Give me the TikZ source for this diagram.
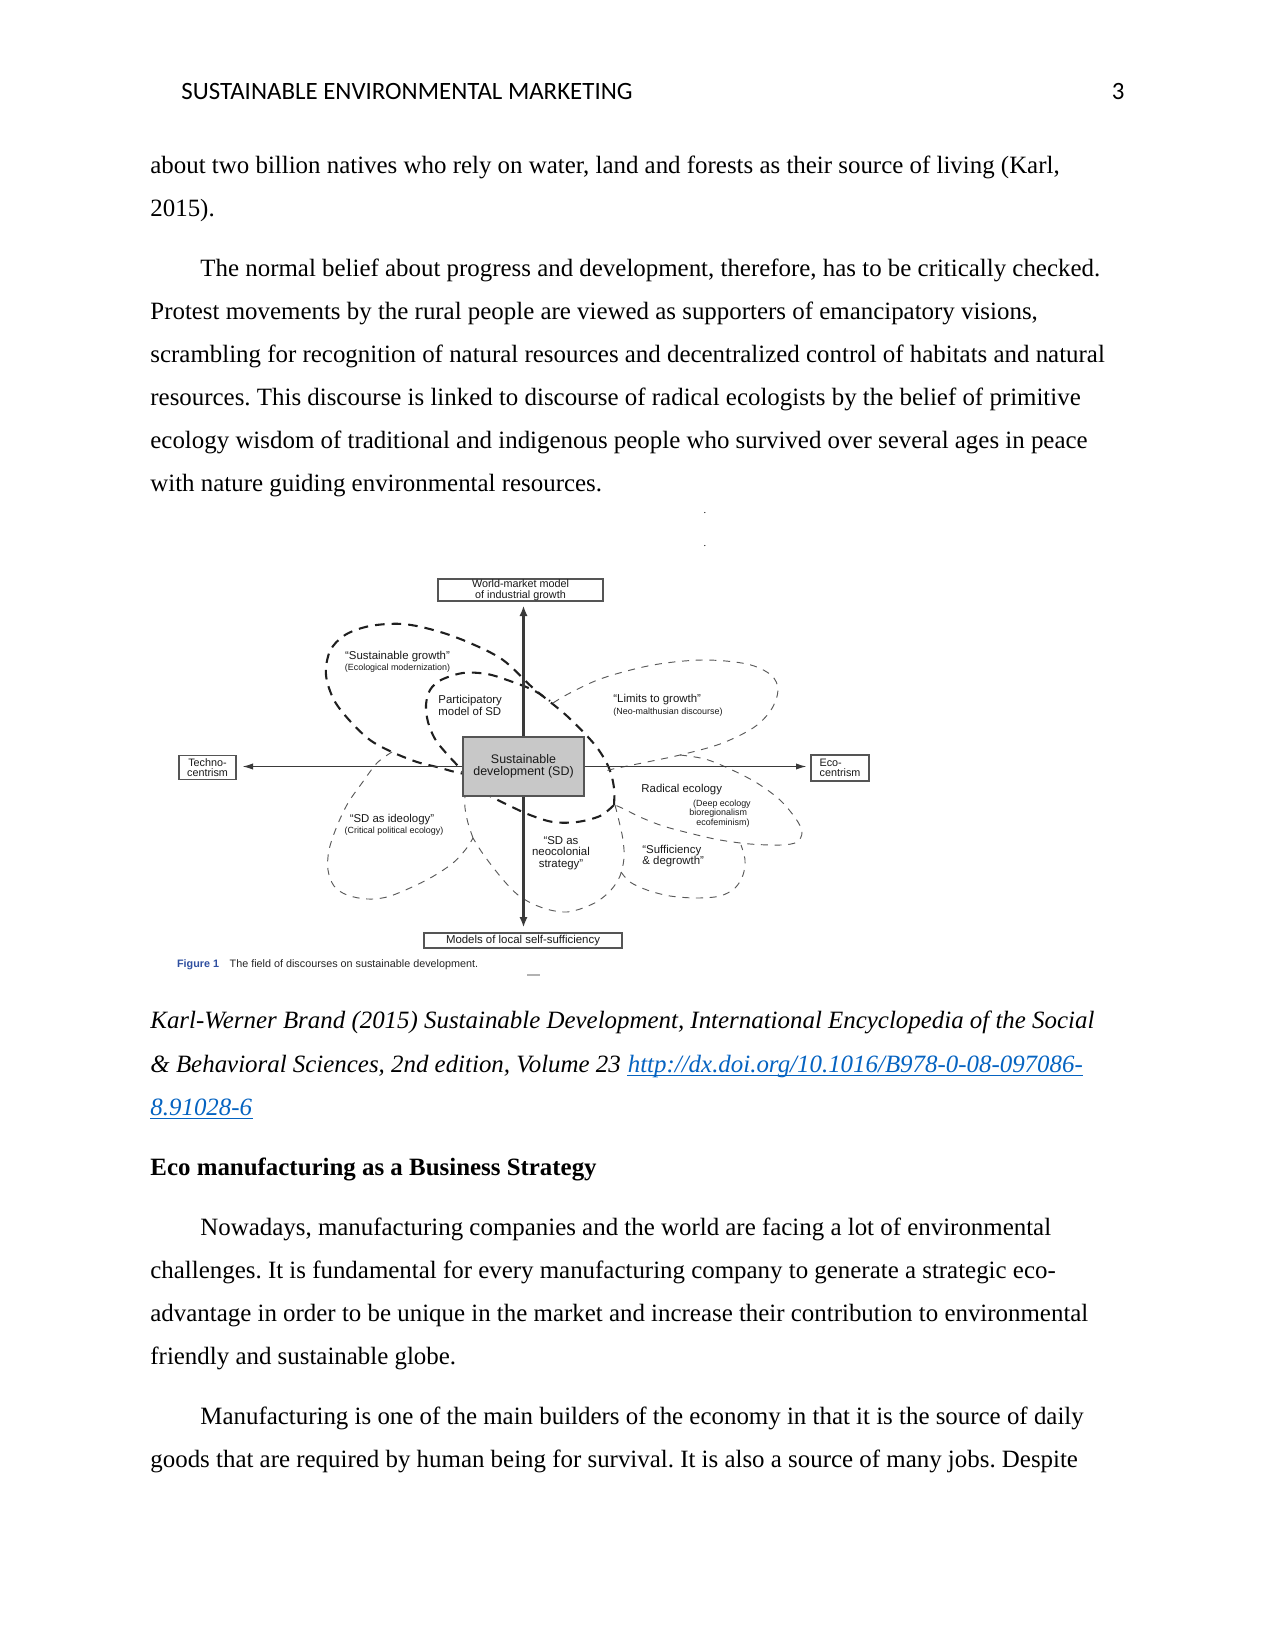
\documentclass[tikz,border=0pt]{standalone}
\usepackage{fontspec}
\setmainfont{Liberation Serif}
\newfontfamily\hdrfont{Carlito}
\newfontfamily\arialf{Liberation Sans}
\usetikzlibrary{arrows.meta}
\newdimen\pxu \pxu=0.4818pt
\definecolor{linkblue}{HTML}{0563C1}
\definecolor{figblue}{HTML}{2F4FA0}
\definecolor{sdgray}{HTML}{C8C8C8}
\definecolor{boxline}{HTML}{555555}
\definecolor{axiscol}{HTML}{3A3A3A}
\frenchspacing
\begin{document}
\begin{tikzpicture}[x=0.4818pt,y=-0.4818pt,
  bodytext/.style={anchor=base west,inner sep=0pt,font=\fontsize{12pt}{14pt}\selectfont},
  lbl/.style={inner sep=0pt,align=center,font=\arialf\fontsize{5.5pt}{5.45pt}\selectfont,text=black!90},
  sublbl/.style={inner sep=0pt,align=center,font=\arialf\fontsize{4.3pt}{4.45pt}\selectfont,text=black!90},
  framebox/.style={draw=boxline,line width=0.6pt,inner sep=0pt,align=center,fill=white,font=\arialf\fontsize{5.2pt}{5.1pt}\selectfont,text=black!90},
  heavyloop/.style={draw=black!88,line width=1pt,dash pattern=on 4.6pt off 3.4pt},
  thinloop/.style={draw=black!65,line width=0.45pt,dash pattern=on 3.4pt off 3.2pt},
  axisline/.style={draw=axiscol,line width=0.55pt,-{Latex[length=5pt,width=3pt]}},
  vaxis/.style={draw=axiscol,line width=1pt,-{Latex[length=5pt,width=4pt]}},
]
\fill[white] (0,0) rectangle (1275,1650);
\useasboundingbox (0,0) rectangle (1275,1650);

% header
\node[anchor=base west,inner sep=0pt,font=\hdrfont\fontsize{12pt}{14pt}\selectfont] (hdr) at (181,100) {SUSTAINABLE ENVIRONMENTAL MARKETING};
\node[anchor=base east,inner sep=0pt,font=\hdrfont\fontsize{12pt}{14pt}\selectfont] (pg) at (1125,100) {3};

% first text block
\node[bodytext] (l1) at (150,173.1) {about two billion natives who rely on water, land and forests as their source of living (Karl,};
\node[bodytext] (l2) at (150,216.2) {2015).};
\node[bodytext] (l3) at (200,276.2) {The normal belief about progress and development, therefore, has to be critically checked.};
\node[bodytext] (l4) at (150,319.3) {Protest movements by the rural people are viewed as supporters of emancipatory visions,};
\node[bodytext] (l5) at (150,362.4) {scrambling for recognition of natural resources and decentralized control of habitats and natural};
\node[bodytext] (l6) at (150,405.6) {resources. This discourse is linked to discourse of radical ecologists by the belief of primitive};
\node[bodytext] (l7) at (150,448.7) {ecology wisdom of traditional and indigenous people who survived over several ages in peace};
\node[bodytext] (l8) at (150,491.8) {with nature guiding environmental resources.};

\node[anchor=base,inner sep=0pt,font=\fontsize{5pt}{5pt}\selectfont] (dot1) at (705,513) {.};
\node[anchor=base,inner sep=0pt,font=\fontsize{5pt}{5pt}\selectfont] (dot2) at (705,546) {.};

% ---------- diagram loops ----------
\draw[heavyloop] plot[smooth,tension=0.55] coordinates {(470,775) (455,772) (437,767) (417,762) (392,752) (370,740) (350,721) (334,700) (326,675) (330,651) (345,635) (370,626) (403,624) (437,631) (470,643) (503,660) (533,688) (567,716) (595,745) (609,768) (614,788) (614,805)};
\draw[heavyloop] plot[smooth,tension=0.55] coordinates {(614,805) (600,816) (577,822) (553,822) (530,815) (510,806) (490,796) (476,788)};
\draw[heavyloop] plot[smooth,tension=0.55] coordinates {(468,778) (458,766) (446,753) (435,739) (428,722) (426,705) (430,690) (441,680) (463,673) (487,674) (510,681) (533,690) (550,701)};

\draw[thinloop] plot[smooth,tension=0.55] coordinates {(553,703) (570,693) (603,678) (653,665) (703,660) (747,664) (771,675) (778,690) (771,710) (753,728) (720,744) (680,755) (647,762) (613,769) (606,771)};
\draw[thinloop] plot[smooth,tension=0.55] coordinates {(680,755) (705,759) (730,769) (757,783) (780,800) (796,819) (802,832) (797,842) (781,845) (750,844) (720,840) (693,834) (663,826) (640,817) (624,809) (615,805)};
\draw[thinloop] plot[smooth,tension=0.55] coordinates {(615,805) (619,821) (623,840) (624,858) (620,876) (611,890) (598,901) (583,908) (567,912) (550,910) (533,904) (518,895) (505,882) (492,866) (481,851) (473,838)};
\draw[thinloop] plot[smooth,tension=0.55] coordinates {(621,872) (630,882) (647,890) (670,896) (697,898) (720,896) (735,888) (743,875) (745,860) (741,845)};
\draw[thinloop] plot[smooth,tension=0.55] coordinates {(392,752) (377,763) (362,783) (348,803) (337,826) (329,850) (328,870) (334,886) (347,895) (367,899) (387,897) (410,888) (432,877) (453,863) (466,849) (473,838)};
\draw[thinloop] plot[smooth,tension=0.55] coordinates {(473,838) (468,823) (465,808) (465,797)};

% ---------- boxes ----------
\node[framebox,minimum width=165\pxu,minimum height=22\pxu] (world) at (520.5,590) {World-market model\\of industrial growth};
\node[framebox,minimum width=57\pxu,minimum height=23.5\pxu] (techno) at (207.5,767.5) {Techno-\\centrism};
\node[framebox,minimum width=58\pxu,minimum height=26\pxu,align=left] (eco) at (840,768) {Eco-\\centrism};
\node[framebox,minimum width=198\pxu,minimum height=15\pxu,font=\arialf\fontsize{5.5pt}{5.5pt}\selectfont] (models) at (523,940.5) {Models of local self-sufficiency};
\node[framebox,fill=sdgray,minimum width=121\pxu,minimum height=59\pxu,font=\arialf\fontsize{6pt}{5.6pt}\selectfont] (sd) at (523.5,766.5) {Sustainable\\development (SD)};

% ---------- axes ----------
\draw[vaxis,shorten >=4\pxu] (sd.north) -- (sd.north |- world.south);
\draw[vaxis,shorten >=5\pxu] (sd.south) -- (sd.south |- models.north);
\draw[axisline,shorten >=6\pxu] (sd.west) -- (sd.west -| techno.east);
\draw[axisline,shorten >=4\pxu] (sd.east) -- (sd.east -| eco.west);

% ---------- labels ----------
\node[lbl] (sg) at (397.5,657) {“Sustainable growth”};
\node[sublbl] (sgs) at (397.5,668) {(Ecological modernization)};
\node[lbl,align=left,anchor=west] (part) at (438,705.5) {Participatory\\model of SD};
\node[lbl,anchor=west] (lim) at (613,700) {“Limits to growth”};
\node[sublbl,anchor=west] (lims) at (613,711.7) {(Neo-malthusian discourse)};
\node[lbl,anchor=west] (rad) at (641,790) {Radical ecology};
\node[sublbl,align=left,anchor=west] (rads) at (689,813.5) {\hspace{1.8pt}(Deep ecology\\bioregionalism\\\hspace{3.4pt}ecofeminism)};
\node[lbl] (ideo) at (392,820) {“SD as ideology”};
\node[sublbl] (ideos) at (394,831) {(Critical political ecology)};
\node[lbl] (neo) at (561,853) {“SD as\\neocolonial\\strategy”};
\node[lbl,align=left,anchor=west] (suff) at (642,856) {“Sufficiency\\\& degrowth”};

% caption
\node[anchor=west,inner sep=0pt,font=\arialf\bfseries\fontsize{5.2pt}{5.2pt}\selectfont,text=figblue] (figno) at (176.7,965) {Figure 1};
\node[anchor=west,inner sep=0pt,font=\arialf\fontsize{5.2pt}{5.2pt}\selectfont,text=black!85] (figcap) at (229.3,965) {The field of discourses on sustainable development.};
\draw[black!30,line width=0.5pt] (527,975) -- (540,975);

% citation
\node[bodytext,font=\itshape\fontsize{12pt}{14pt}\selectfont] (l9) at (150,1028.9) {Karl-Werner Brand (2015) Sustainable Development, International Encyclopedia of the Social};
\node[bodytext,font=\itshape\fontsize{12pt}{14pt}\selectfont] (l10) at (150,1072.1) {\& Behavioral Sciences, 2nd edition, Volume 23};
\node[bodytext,font=\itshape\fontsize{12pt}{14pt}\selectfont,text=linkblue,anchor=base west] (lk1) at ([xshift=3pt]l10.base east) {http://dx.doi.org/10.1016/B978-0-08-097086-};
\node[bodytext,font=\itshape\fontsize{12pt}{14pt}\selectfont,text=linkblue] (lk2) at (150,1115.2) {8.91028-6};
\draw[linkblue,line width=0.6pt] ([yshift=-1.6pt]lk1.base west) -- ([yshift=-1.6pt]lk1.base east);
\draw[linkblue,line width=0.6pt] ([yshift=-1.6pt]lk2.base west) -- ([yshift=-1.6pt]lk2.base east);

% heading and second block
\node[bodytext,font=\bfseries\fontsize{12pt}{14pt}\selectfont] (head) at (150,1175.2) {Eco manufacturing as a Business Strategy};
\node[bodytext] (l13) at (200,1235.1) {Nowadays, manufacturing companies and the world are facing a lot of environmental};
\node[bodytext] (l14) at (150,1278.2) {challenges. It is fundamental for every manufacturing company to generate a strategic eco-};
\node[bodytext] (l15) at (150,1321.3) {advantage in order to be unique in the market and increase their contribution to environmental};
\node[bodytext] (l16) at (150,1364.4) {friendly and sustainable globe.};
\node[bodytext] (l17) at (200,1424.3) {Manufacturing is one of the main builders of the economy in that it is the source of daily};
\node[bodytext] (l18) at (150,1467.4) {goods that are required by human being for survival. It is also a source of many jobs. Despite};
\end{tikzpicture}
\end{document}
